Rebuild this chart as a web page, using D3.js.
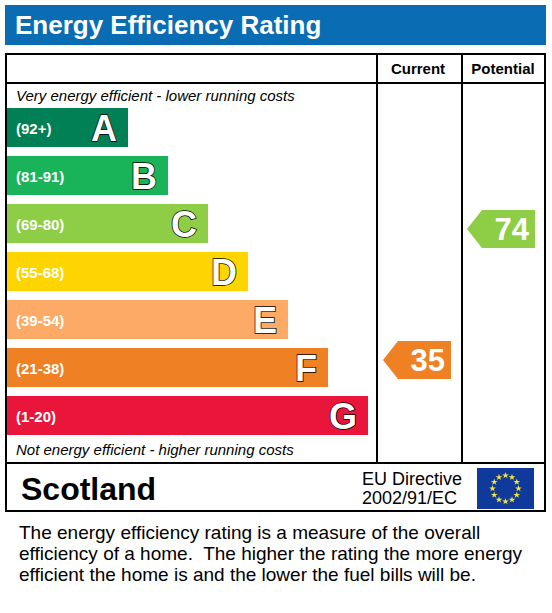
<!DOCTYPE html>
<html><head><meta charset="utf-8">
<script src="https://cdn.jsdelivr.net/npm/d3@7"></script>
<style>body{margin:0;background:#fff}svg{display:block;font-family:Arial,"Liberation Sans",sans-serif}</style>
</head><body><svg id="c" width="552" height="613"></svg>
<script>
const bands = ["A","B","C","D","E","F","G"];
const ranges = ["(92+)","(81-91)","(69-80)","(55-68)","(39-54)","(21-38)","(1-20)"];
const bandColors = ["#008054","#19b459","#8dce46","#ffd500","#fcaa65","#ef8023","#e9153b"];
const bandMin = [92,81,69,55,39,21,1];
const currentRating = [35];
const potentialRating = [74];

const svg = d3.select("#c");
svg.append("rect").attr("x",5).attr("y",5).attr("width",541).attr("height",40).attr("fill","#0a6db4");
svg.append("text").attr("x",15).attr("y",34).attr("fill","#fff").attr("font-size",26).attr("font-weight","bold").text("Energy Efficiency Rating");

const L=6,R=545,T=54,B=511;
svg.append("rect").attr("x",L).attr("y",T).attr("width",R-L).attr("height",B-T).attr("fill","none").attr("stroke","#000").attr("stroke-width",2);
[[L,83,R,83],[L,463,R,463],[377,T,377,463],[462,T,462,463]].forEach(d=>
  svg.append("line").attr("x1",d[0]).attr("y1",d[1]).attr("x2",d[2]).attr("y2",d[3]).attr("stroke","#000").attr("stroke-width",2));
svg.append("text").attr("x",418).attr("y",74).attr("text-anchor","middle").attr("font-size",15).attr("font-weight","bold").text("Current");
svg.append("text").attr("x",503).attr("y",74).attr("text-anchor","middle").attr("font-size",15).attr("font-weight","bold").text("Potential");
svg.append("text").attr("x",16).attr("y",101).attr("font-size",15).attr("font-style","italic").text("Very energy efficient - lower running costs");
svg.append("text").attr("x",16).attr("y",455).attr("font-size",15).attr("font-style","italic").text("Not energy efficient - higher running costs");

const y = d3.scaleBand().domain(bands).range([108,435]).paddingInner(9/48).paddingOuter(0);
const w = d3.scaleLinear().domain([0,6]).range([121,361]);
const g = svg.selectAll("g.band").data(bands).join("g");
g.append("rect").attr("x",7).attr("y",d=>y(d)).attr("height",y.bandwidth()).attr("width",(d,i)=>w(i)).attr("fill",(d,i)=>bandColors[i]);
g.append("text").attr("x",16).attr("y",d=>y(d)+y.bandwidth()/2+6).attr("fill","#fff").attr("font-size",15).attr("font-weight","bold").text((d,i)=>ranges[i]);
g.append("text").attr("x",(d,i)=>7+w(i)-11).attr("y",d=>y(d)+y.bandwidth()/2+13).attr("text-anchor","end")
 .attr("fill","#fff").attr("stroke","#000").attr("stroke-width",1.5).attr("paint-order","stroke").attr("font-size",36).attr("font-weight","bold").text(d=>d);

function band(v){return bandMin.findIndex(m=>v>=m);}
function arrow(v,x0,cy){
  const i=band(v), h=38, x1=x0+68, t=cy-h/2;
  svg.append("path").attr("d",`M${x0},${cy} L${x0+15},${t} L${x1},${t} L${x1},${t+h} L${x0+15},${t+h} Z`).attr("fill",bandColors[i]);
  svg.append("text").attr("x",x1-6).attr("y",cy+11).attr("text-anchor","end").attr("fill","#fff").attr("font-size",31).attr("font-weight","bold").text(v);
}
arrow(currentRating[0],383,360);
arrow(potentialRating[0],467,229);

svg.append("text").attr("x",21).attr("y",500).attr("font-size",32).attr("font-weight","bold").text("Scotland");
svg.append("text").attr("x",362).attr("y",485).attr("font-size",18).text("EU Directive");
svg.append("text").attr("x",362).attr("y",504).attr("font-size",18).text("2002/91/EC");
svg.append("rect").attr("x",477).attr("y",468).attr("width",57).attr("height",41).attr("fill","#0f3a9c");
const star=d3.symbol().type(d3.symbolStar).size(14);
d3.range(12).forEach(k=>{const a=k*Math.PI/6;
  svg.append("path").attr("d",star).attr("fill","#f7e53a").attr("transform",`translate(${505.5+13*Math.sin(a)},${488.5-13*Math.cos(a)})`);});

const foot=["The energy efficiency rating is a measure of the overall","efficiency of a home.  The higher the rating the more energy","efficient the home is and the lower the fuel bills will be."];
svg.selectAll("text.f").data(foot).join("text").attr("x",19).attr("y",(d,i)=>539+i*21).attr("font-size",19).style("white-space","pre").text(d=>d);
</script></body></html>
